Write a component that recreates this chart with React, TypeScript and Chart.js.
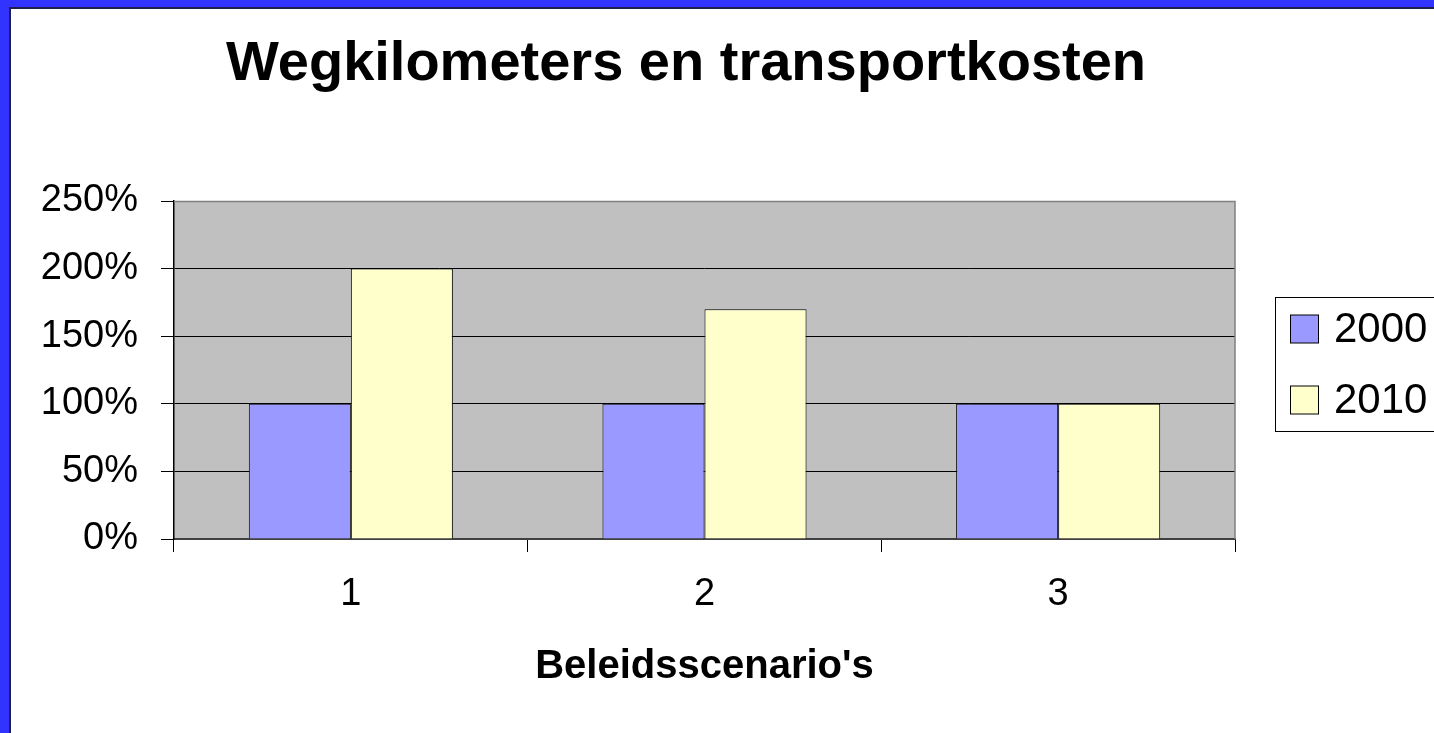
import React, { useEffect, useRef } from "react";
import { Chart, registerables } from "chart.js";

Chart.register(...registerables);

const TITLE = "Wegkilometers en transportkosten";
const X_TITLE = "Beleidsscenario's";
const categories = ["1", "2", "3"];
const series2000 = [100, 100, 100];
const series2010 = [200, 170, 100];
const seriesLabels = ["2000", "2010"];
const seriesColors = ["#9999FF", "#FFFFCC"];
const yTicks = [0, 50, 100, 150, 200, 250];

const FONT = "'Liberation Sans', Arial, sans-serif";

const decor = {
  id: "decor",
  beforeDraw(chart: any) {
    const { ctx, chartArea: a } = chart;
    ctx.save();
    ctx.fillStyle = "#C0C0C0";
    ctx.fillRect(a.left, a.top, a.right - a.left, a.bottom - a.top);
    ctx.restore();
  },
  afterDraw(chart: any) {
    const { ctx, chartArea: a } = chart;
    ctx.save();
    // plot border right/top
    ctx.strokeStyle = "#808080";
    ctx.lineWidth = 1.5;
    ctx.beginPath();
    ctx.moveTo(a.left, a.top + 0.5);
    ctx.lineTo(a.right, a.top + 0.5);
    ctx.lineTo(a.right, a.bottom);
    ctx.stroke();
    // title
    ctx.fillStyle = "#000";
    ctx.font = `bold 56px ${FONT}`;
    ctx.textAlign = "center";
    ctx.textBaseline = "middle";
    ctx.fillText(TITLE, 686, 65);
    // legend
    const lx = 1275.5, ly = 297.5, lw = 200, lh = 134;
    ctx.fillStyle = "#FFFFFF";
    ctx.fillRect(lx, ly, lw, lh);
    ctx.strokeStyle = "#000";
    ctx.lineWidth = 1;
    ctx.strokeRect(lx, ly, lw, lh);
    chart.data.datasets.forEach((ds: any, i: number) => {
      const cy = 329 + i * 71;
      ctx.fillStyle = ds.backgroundColor;
      ctx.fillRect(1290.5, cy - 14, 28, 28);
      ctx.strokeStyle = "#000";
      ctx.strokeRect(1290.5, cy - 14, 28, 28);
      ctx.fillStyle = "#000";
      ctx.font = `42px ${FONT}`;
      ctx.textAlign = "left";
      ctx.textBaseline = "middle";
      ctx.fillText(ds.label, 1334, cy + 1);
    });
    ctx.restore();
  },
};

export default function App() {
  const ref = useRef<HTMLCanvasElement>(null);
  useEffect(() => {
    if (!ref.current) return;
    const chart = new Chart(ref.current, {
      type: "bar",
      data: {
        labels: categories,
        datasets: [
          {
            label: seriesLabels[0],
            data: series2000,
            backgroundColor: seriesColors[0],
            borderColor: "#000",
            borderWidth: 1,
          },
          {
            label: seriesLabels[1],
            data: series2010,
            backgroundColor: seriesColors[1],
            borderColor: "#000",
            borderWidth: 1,
          },
        ],
      },
      options: {
        animation: false,
        responsive: false,
        devicePixelRatio: 1,
        layout: { padding: { top: 201, right: 199, left: 0, bottom: 0 } },
        datasets: { bar: { barPercentage: 1, categoryPercentage: 0.577 } },
        plugins: { legend: { display: false }, title: { display: false }, tooltip: { enabled: false } },
        scales: {
          x: {
            afterFit: (s: any) => { s.height = 194; },
            grid: { offset: true, drawOnChartArea: false, drawTicks: true, tickLength: 13, color: "#000" },
            border: { color: "#404040", width: 2 },
            ticks: { color: "#000", font: { family: FONT, size: 38 }, padding: 20, maxRotation: 0 },
            title: { display: true, text: X_TITLE, color: "#000", font: { family: FONT, size: 40, weight: "bold" }, padding: { top: 0, bottom: 42 } },
          },
          y: {
            min: yTicks[0],
            max: yTicks[yTicks.length - 1],
            afterFit: (s: any) => { s.width = 174; },
            afterBuildTicks: (s: any) => { s.ticks = yTicks.map((v) => ({ value: v })); },
            grid: { color: "#000", lineWidth: 1, tickLength: 13, drawTicks: true },
            border: { color: "#000", width: 1.5 },
            ticks: { color: "#000", font: { family: FONT, size: 38 }, padding: 23, callback: (v: any) => v + "%" },
          },
        },
      },
      plugins: [decor],
    });
    return () => chart.destroy();
  }, []);
  return (
    <div style={{ position: "fixed", left: 0, top: 0, width: 1434, height: 733, background: "#fff", overflow: "hidden" }}>
      <canvas ref={ref} width={1434} height={733} style={{ position: "absolute", left: 0, top: 0, width: 1434, height: 733 }} />
      <div style={{ position: "absolute", left: 0, top: 0, width: 1434, height: 7, background: "#3333FF" }} />
      <div style={{ position: "absolute", left: 0, top: 0, width: 9, height: 733, background: "#3333FF" }} />
      <div style={{ position: "absolute", left: 9, top: 7, width: 1425, height: 2, background: "#1f1f4f" }} />
      <div style={{ position: "absolute", left: 9, top: 7, width: 2, height: 726, background: "#1f1f4f" }} />
    </div>
  );
}
